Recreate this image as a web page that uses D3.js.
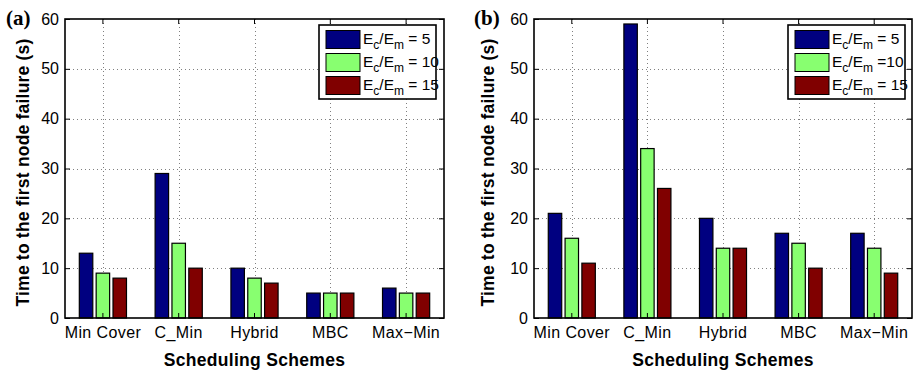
<!DOCTYPE html>
<html>
<head>
<meta charset="utf-8">
<script src="https://cdn.jsdelivr.net/npm/d3@7"></script>
<style>
  html, body { margin: 0; padding: 0; background: #fff; }
  svg { display: block; }
  text { font-family: "Liberation Sans", Arial, Helvetica, sans-serif; }
</style>
</head>
<body>
<svg id="chart" width="916" height="375"></svg>
<script>
// Scheduling schemes on the x axis
const schemes = ["Min Cover", "C_Min", "Hybrid", "MBC", "Max\u2212Min"];
const yTicks = [0, 10, 20, 30, 40, 50, 60];

// Ec/Em ratios (one series per ratio)
const ratioLabelsA = ["= 5", "= 10", "= 15"];
const ratioLabelsB = ["= 5", "=10", "= 15"];
const seriesColors = ["#000080", "#88ff70", "#800000"];

// Panel (a): time to the first node failure (s)
const panelA_r5  = [13, 29, 10, 5, 6];
const panelA_r10 = [9, 15, 8, 5, 5];
const panelA_r15 = [8, 10, 7, 5, 5];

// Panel (b): time to the first node failure (s)
const panelB_r5  = [21, 59, 20, 17, 17];
const panelB_r10 = [16, 34, 14, 15, 14];
const panelB_r15 = [11, 26, 14, 10, 9];

const svg = d3.select("#chart");

function drawPanel(cfg) {
  const { left, right, top, bottom, series, ratioLabels, tag, tagX, yLabelX, legend } = cfg;
  const g = svg.append("g");

  const x0 = d3.scaleBand().domain(schemes).range([left, right]).padding(0);
  const w = x0.bandwidth();
  const x1 = d3.scaleBand().domain([0, 1, 2]).range([-w / 3, w / 3])
    .paddingInner(0.2).paddingOuter(0.1);
  const y = d3.scaleLinear().domain([0, 60]).range([bottom, top]);

  // dotted grid
  const grid = g.append("g").attr("stroke", "#808080").attr("stroke-width", 1)
    .attr("stroke-dasharray", "1,3");
  yTicks.slice(1, -1).forEach(t => {
    grid.append("line").attr("x1", left).attr("x2", right)
      .attr("y1", Math.round(y(t)) + 0.5).attr("y2", Math.round(y(t)) + 0.5);
  });
  schemes.forEach(s => {
    const cx = Math.round(x0(s) + w / 2) + 0.5;
    grid.append("line").attr("x1", cx).attr("x2", cx).attr("y1", top).attr("y2", bottom);
  });

  // bars
  series.forEach((vals, si) => {
    g.append("g").selectAll("rect").data(vals).join("rect")
      .attr("x", (d, i) => x0(schemes[i]) + w / 2 + x1(si))
      .attr("width", x1.bandwidth())
      .attr("y", d => y(d))
      .attr("height", d => y(0) - y(d))
      .attr("fill", seriesColors[si])
      .attr("stroke", "#000")
      .attr("stroke-width", 1.2);
  });

  // axes with inward ticks
  const yAx = g.append("g").attr("transform", `translate(${left},0)`)
    .call(d3.axisLeft(y).tickValues(yTicks).tickSizeInner(-5).tickSizeOuter(0).tickPadding(6));
  const yAxR = g.append("g").attr("transform", `translate(${right},0)`)
    .call(d3.axisRight(y).tickValues(yTicks).tickSizeInner(-5).tickSizeOuter(0).tickFormat(""));
  const xAx = g.append("g").attr("transform", `translate(0,${bottom})`)
    .call(d3.axisBottom(x0).tickSizeInner(-5).tickSizeOuter(0).tickPadding(9));
  const xAxT = g.append("g").attr("transform", `translate(0,${top})`)
    .call(d3.axisTop(x0).tickSizeInner(-5).tickSizeOuter(0).tickFormat(""));
  [yAx, yAxR, xAx, xAxT].forEach(a => {
    a.select(".domain").remove();
    a.selectAll("line").attr("stroke", "#000");
    a.selectAll("text").attr("font-size", 16).attr("fill", "#000")
      .attr("font-family", "'Liberation Sans', Arial, sans-serif");
  });
  xAx.selectAll("text").attr("letter-spacing", 0.4);

  // plot frame
  g.append("rect").attr("x", left).attr("y", top)
    .attr("width", right - left).attr("height", bottom - top)
    .attr("fill", "none").attr("stroke", "#000").attr("stroke-width", 1.6);

  // axis titles
  g.append("text").attr("x", (left + right) / 2).attr("y", 366)
    .attr("text-anchor", "middle").attr("font-weight", "bold").attr("font-size", 17.5)
    .attr("letter-spacing", 0.3)
    .text("Scheduling Schemes");
  g.append("text")
    .attr("transform", `translate(${yLabelX},${(top + bottom) / 2 + 4}) rotate(-90)`)
    .attr("text-anchor", "middle").attr("font-weight", "bold").attr("font-size", 17.5)
    .attr("letter-spacing", 0.2)
    .text("Time to the first node failure (s)");

  // panel tag
  g.append("text").attr("x", tagX).attr("y", 25)
    .style("font-family", "'Liberation Serif', 'Times New Roman', serif")
    .attr("font-weight", "bold").attr("font-size", 21)
    .text(tag);

  // legend
  const lg = g.append("g");
  lg.append("rect").attr("x", legend.x).attr("y", legend.y)
    .attr("width", legend.w).attr("height", 74)
    .attr("fill", "#fff").attr("stroke", "#000").attr("stroke-width", 1.6);
  ratioLabels.forEach((lab, i) => {
    const ry = legend.y + 5.5 + i * 23;
    lg.append("rect").attr("x", legend.x + 7).attr("y", ry)
      .attr("width", 34).attr("height", 18)
      .attr("fill", seriesColors[i]).attr("stroke", "#000").attr("stroke-width", 1);
    const t = lg.append("text").attr("x", legend.x + 44).attr("y", ry + 13)
      .attr("font-size", 15.5);
    t.append("tspan").text("E");
    t.append("tspan").attr("font-size", 12).attr("dy", 5).text("c");
    t.append("tspan").attr("dy", -5).text("/E");
    t.append("tspan").attr("font-size", 12).attr("dy", 5).text("m");
    t.append("tspan").attr("dy", -5).text(" " + lab);
  });
}

drawPanel({
  left: 65, right: 444, top: 19, bottom: 318,
  series: [panelA_r5, panelA_r10, panelA_r15],
  ratioLabels: ratioLabelsA, tag: "(a)", tagX: 6, yLabelX: 29,
  legend: { x: 319, y: 25, w: 117 }
});
drawPanel({
  left: 534, right: 912, top: 19, bottom: 318,
  series: [panelB_r5, panelB_r10, panelB_r15],
  ratioLabels: ratioLabelsB, tag: "(b)", tagX: 474, yLabelX: 494,
  legend: { x: 788, y: 25, w: 117 }
});
</script>
</body>
</html>
